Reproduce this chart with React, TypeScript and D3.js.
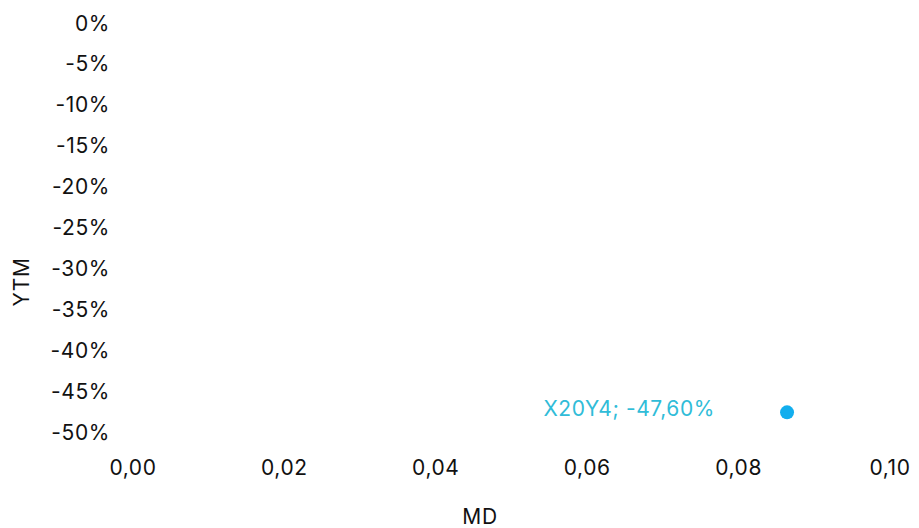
import React from "react";
import * as d3 from "d3";

const pointNames = ["X20Y4"];
const mdValues = [0.0864];
const ytmValues = [-0.476];
const yTicks = [0, -0.05, -0.1, -0.15, -0.2, -0.25, -0.3, -0.35, -0.4, -0.45, -0.5];
const xTicks = [0, 0.02, 0.04, 0.06, 0.08, 0.1];

const W = 919;
const H = 528;
const FONT = "Inter, 'Noto Sans', sans-serif";
const FS = 21;
const LS = 0.6;

export default function App() {
  const x = d3.scaleLinear().domain([0, 0.1]).range([133, 890]);
  const y = d3.scaleLinear().domain([-0.5, 0]).range([432, 23]);
  const fmtX = (v: number) => v.toFixed(2).replace(".", ",");
  const fmtY = (v: number) => `${Math.round(v * 100)}%`;
  const fmtPct = (v: number) => (v * 100).toFixed(2).replace(".", ",") + "%";

  return (
    <svg
      width={W}
      height={H}
      style={{ position: "absolute", left: 0, top: 0, background: "#fff" }}
      fontFamily={FONT}
      letterSpacing={LS}
    >
      {yTicks.map((t) => (
        <text
          key={"y" + t}
          x={110}
          y={y(t)}
          textAnchor="end"
          dominantBaseline="central"
          fontSize={FS}
          fill="#111"
        >
          {fmtY(t)}
        </text>
      ))}
      {xTicks.map((t) => (
        <text
          key={"x" + t}
          x={x(t)}
          y={467}
          textAnchor="middle"
          dominantBaseline="central"
          fontSize={FS}
          fill="#111"
        >
          {fmtX(t)}
        </text>
      ))}
      <text x={480} y={516} textAnchor="middle" dominantBaseline="central" fontSize={FS} fill="#111">
        MD
      </text>
      <text
        transform={`translate(21,${282}) rotate(-90)`}
        textAnchor="middle"
        dominantBaseline="central"
        fontSize={FS}
        fill="#111"
      >
        YTM
      </text>
      {mdValues.map((m, i) => (
        <g key={pointNames[i]}>
          <circle cx={x(m)} cy={y(ytmValues[i])} r={7} fill="#12aeee" />
          <text
            x={x(m) - 72}
            y={y(ytmValues[i]) - 4}
            textAnchor="end"
            dominantBaseline="central"
            fontSize={FS}
            fill="#30bcd8"
          >
            {`${pointNames[i]}; ${fmtPct(ytmValues[i])}`}
          </text>
        </g>
      ))}
    </svg>
  );
}
